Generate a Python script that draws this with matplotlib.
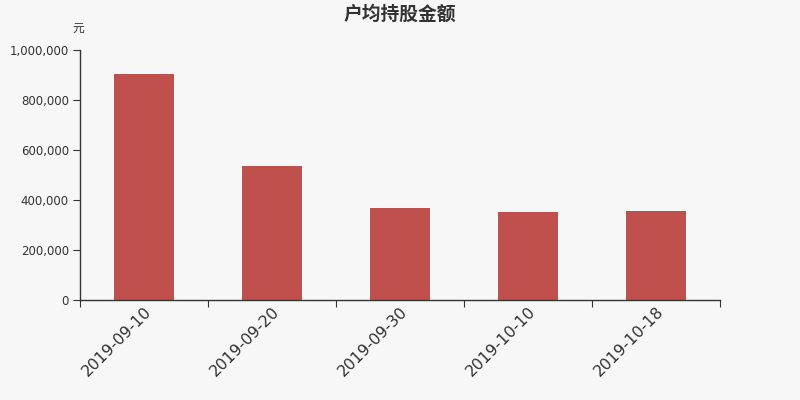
import matplotlib
matplotlib.use("Agg")
from matplotlib import pyplot as plt
from matplotlib.ticker import FuncFormatter
import numpy as np

plt.rcParams['font.family'] = ['DejaVu Sans', 'Noto Sans CJK SC']

dates = ['2019-09-10', '2019-09-20', '2019-09-30', '2019-10-10', '2019-10-18']
amounts = [904000, 535000, 367000, 351000, 355000]

bg = '#f7f7f7'
bar_color = '#c0504d'
text_color = '#333333'

fig = plt.figure(figsize=(8, 4), dpi=100, facecolor=bg)
ax = fig.add_axes([0.1, 0.25, 0.8, 0.625], facecolor=bg)

x = np.arange(len(dates))
ax.bar(x, amounts, width=0.47, color=bar_color, zorder=2)

ax.set_xlim(-0.5, len(dates) - 0.5)
ax.set_ylim(0, 1000000)
ax.set_yticks(np.arange(0, 1000001, 200000))
ax.yaxis.set_major_formatter(FuncFormatter(lambda v, p: f'{int(v):,}'))

# ticks on category boundaries, labels on centers
ax.set_xticks(np.arange(-0.5, len(dates), 1.0))
ax.set_xticklabels([])
ax.set_xticks(x, minor=True)
ax.set_xticklabels(dates, minor=True, rotation=45, ha='right',
                   rotation_mode='anchor', fontsize=11.3, color=text_color)
ax.tick_params(axis='x', which='minor', length=0, pad=3)
ax.tick_params(axis='x', which='major', length=5, color=text_color)
ax.tick_params(axis='y', length=5, color=text_color, labelsize=8.5,
               labelcolor=text_color, pad=3)

for s in ['top', 'right']:
    ax.spines[s].set_visible(False)
for s in ['left', 'bottom']:
    ax.spines[s].set_color(text_color)
    ax.spines[s].set_linewidth(1)

fig.text(0.5, 0.965, '户均持股金额', ha='center', va='center', fontsize=13.5,
         fontweight='bold', color=text_color,
         family=['Noto Sans CJK SC', 'DejaVu Sans'])
fig.text(0.098, 0.93, '元', ha='center', va='center', fontsize=8.5,
         color=text_color, family=['Noto Sans CJK SC', 'DejaVu Sans'])

fig.savefig('out.png', dpi=100, facecolor=bg)
